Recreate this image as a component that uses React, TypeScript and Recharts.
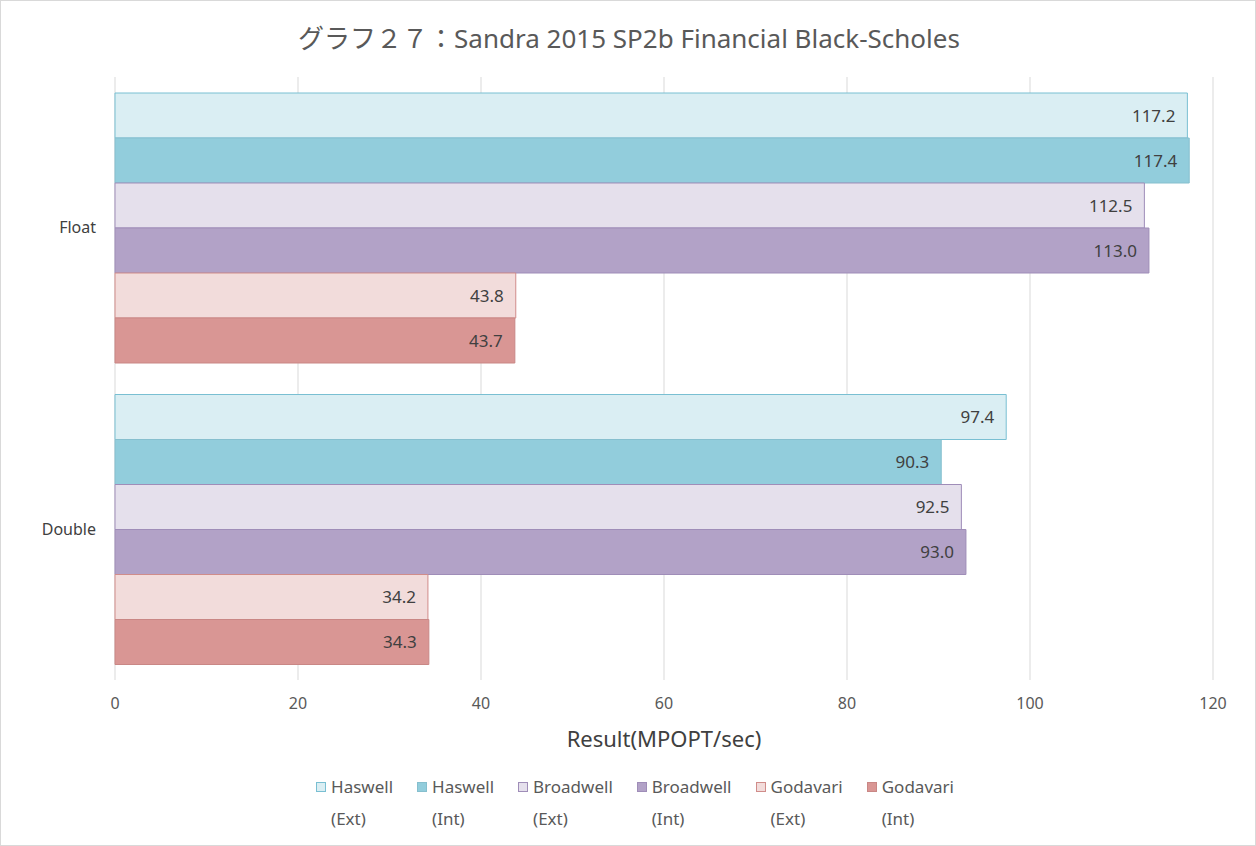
import React from "react"
import {
  Bar,
  BarChart,
  CartesianGrid,
  LabelList,
  XAxis,
  YAxis,
} from 'recharts';

const categories = ['Float', 'Double'];
const haswellExt = [117.2, 97.4];
const haswellInt = [117.4, 90.3];
const broadwellExt = [112.5, 92.5];
const broadwellInt = [113.0, 93.0];
const godavariExt = [43.8, 34.2];
const godavariInt = [43.7, 34.3];
const xTicks = [0, 20, 40, 60, 80, 100, 120];

const series = [
  { key: 'hExt', name: 'Haswell', sub: '(Ext)', values: haswellExt, fill: '#DAEEF3', stroke: '#79BFD2' },
  { key: 'hInt', name: 'Haswell', sub: '(Int)', values: haswellInt, fill: '#92CDDC', stroke: '#86BFCE' },
  { key: 'bExt', name: 'Broadwell', sub: '(Ext)', values: broadwellExt, fill: '#E5E0EC', stroke: '#9F8DB8' },
  { key: 'bInt', name: 'Broadwell', sub: '(Int)', values: broadwellInt, fill: '#B2A2C7', stroke: '#9F8DB8' },
  { key: 'gExt', name: 'Godavari', sub: '(Ext)', values: godavariExt, fill: '#F2DCDB', stroke: '#D08C8A' },
  { key: 'gInt', name: 'Godavari', sub: '(Int)', values: godavariInt, fill: '#D99694', stroke: '#C98785' },
];

const data = categories.map((c, i) => {
  const row: Record<string, any> = { category: c };
  series.forEach((s) => { row[s.key] = s.values[i]; });
  return row;
});

const font = '"Noto Sans", "Noto Sans CJK JP", sans-serif';

export default function App() {
  return (
    <div
      style={{
        position: 'absolute',
        left: 0,
        top: 0,
        width: 1256,
        height: 846,
        boxSizing: 'border-box',
        border: '1px solid #d9d9d9',
        background: '#fff',
        fontFamily: font,
      }}
    >
      <div
        style={{
          position: 'absolute',
          top: 17,
          left: 0,
          width: 1256,
          textAlign: 'center',
          fontSize: 26,
          color: '#595959',
        }}
      >
        グラフ２７：Sandra 2015 SP2b Financial Black-Scholes
      </div>
      <div style={{ position: 'absolute', left: -1, top: -1 }}>
        <BarChart
          width={1256}
          height={846}
          data={data}
          layout="vertical"
          margin={{ top: 77, right: 43, bottom: 86, left: 0 }}
          barCategoryGap={16}
          barGap={0}
        >
          <CartesianGrid horizontal={false} stroke="#d9d9d9" />
          <XAxis
            type="number"
            domain={[0, 120]}
            ticks={xTicks}
            axisLine={false}
            tickLine={false}
            tickMargin={12}
            height={80}
            tick={{ fontSize: 16, fill: '#595959', fontFamily: font }}
            label={{
              value: 'Result(MPOPT/sec)',
              position: 'insideBottom',
              offset: 13,
              fontSize: 22,
              fill: '#404040',
              fontFamily: font,
            }}
          />
          <YAxis
            type="category"
            dataKey="category"
            width={115}
            axisLine={false}
            tickLine={false}
            tickMargin={13}
            tick={{ fontSize: 16, fill: '#404040', fontFamily: font }}
          />
          {series.map((s) => (
            <Bar
              key={s.key}
              dataKey={s.key}
              name={s.name}
              fill={s.fill}
              stroke={s.stroke}
              strokeWidth={1}
              isAnimationActive={false}
            >
              <LabelList
                dataKey={s.key}
                position="insideRight"
                offset={12}
                formatter={(v: any) => Number(v).toFixed(1)}
                style={{ fontSize: 17, fill: '#404040', fontFamily: font }}
              />
            </Bar>
          ))}
        </BarChart>
      </div>
      <div
        style={{
          position: 'absolute',
          top: 774,
          left: 0,
          width: 1256,
          display: 'flex',
          justifyContent: 'center',
          gap: 24,
          paddingLeft: 12,
          boxSizing: 'border-box',
          fontSize: 17,
          color: '#595959',
        }}
      >
        {series.map((s) => (
          <div key={s.key} style={{ display: 'flex', alignItems: 'flex-start' }}>
            <div
              style={{
                width: 10,
                height: 10,
                marginTop: 7,
                marginRight: 5,
                background: s.fill,
                border: `1px solid ${s.stroke}`,
                boxSizing: 'border-box',
              }}
            />
            <div style={{ lineHeight: '32px', marginTop: -4 }}>
              <div>{s.name}</div>
              <div>{s.sub}</div>
            </div>
          </div>
        ))}
      </div>
    </div>
  );
}
